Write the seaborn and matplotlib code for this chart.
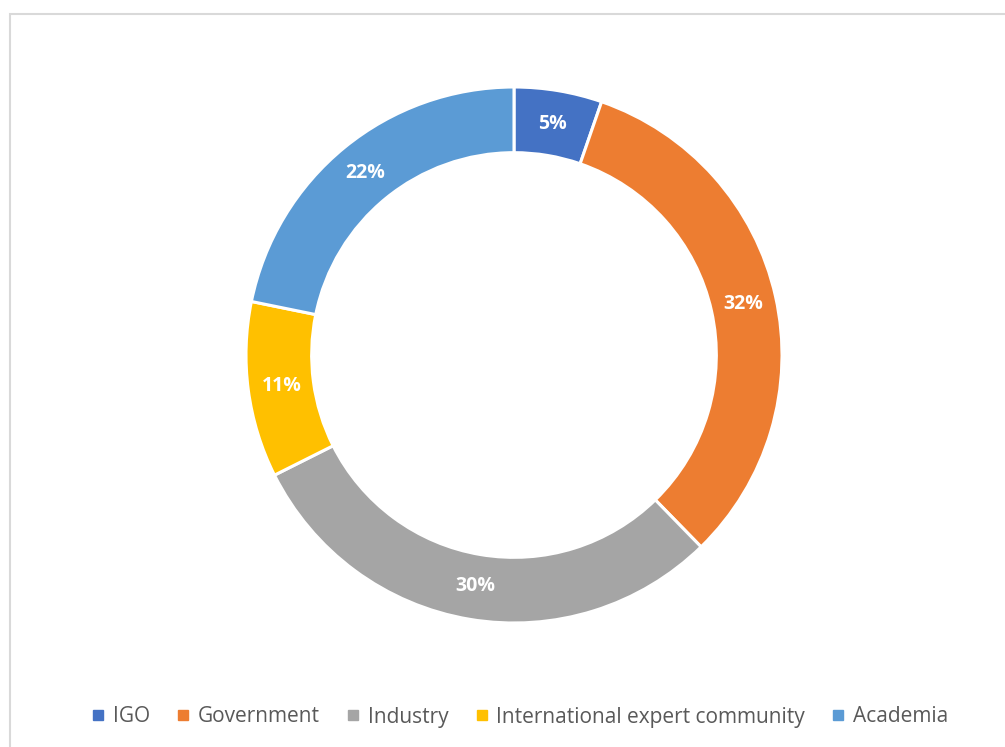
import matplotlib
matplotlib.use("Agg")
import matplotlib.pyplot as plt
import seaborn as sns
from matplotlib.patches import Rectangle
from matplotlib.lines import Line2D

categories = ["IGO", "Government", "Industry", "International expert community", "Academia"]
values = [5.3, 32.4, 29.9, 10.6, 21.8]
colors = ["#4472C4", "#ED7D31", "#A5A5A5", "#FFC000", "#5B9BD5"]

sns.set_theme(style="white")
plt.rcParams['font.family'] = ['Open Sans', 'DejaVu Sans']
palette = sns.color_palette(colors)

fig = plt.figure(figsize=(10.05, 7.47), dpi=100)
ax = fig.add_axes([246/1005, (747-623)/747, 536/1005, 536/747])

wedges, texts, autotexts = ax.pie(
    values, colors=palette, startangle=90, counterclock=False,
    radius=1.0, pctdistance=0.875,
    autopct=lambda p: f"{p:.0f}%",
    wedgeprops=dict(width=0.245, edgecolor="white", linewidth=2.2),
    textprops=dict(color="white", fontsize=14, fontweight="bold"))
ax.set_xlim(-1, 1)
ax.set_ylim(-1, 1)
ax.set_aspect("equal")
ax.axis("off")

# outer frame
fig.patches.append(Rectangle((10/1005, -0.1), 1.2, (747-14)/747 + 0.1,
                             transform=fig.transFigure, fill=False,
                             edgecolor="#d9d9d9", linewidth=1.5))

handles = [Line2D([0], [0], marker="s", linestyle="none", markersize=7,
                  markerfacecolor=c, markeredgecolor=c) for c in palette]
fig.legend(handles, categories, loc="center", bbox_to_anchor=(518/1005, 1 - 717/747),
           ncol=5, frameon=False, fontsize=15, labelcolor="#595959",
           handletextpad=0.2, columnspacing=1.1, handlelength=1.0)

fig.savefig("out.png", dpi=100)
